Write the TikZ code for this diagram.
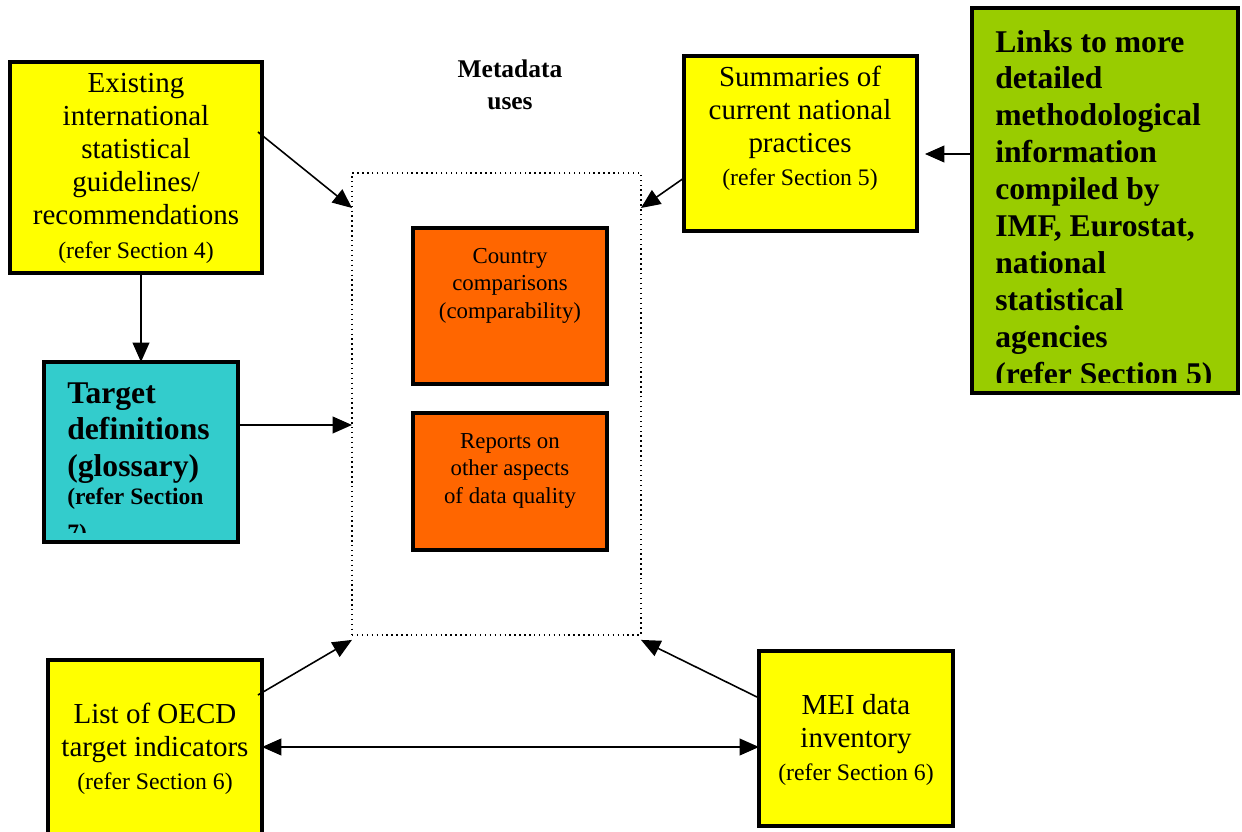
\documentclass[tikz,border=0pt]{standalone}
\usepackage{fontspec}
\setmainfont{Liberation Serif}
\usetikzlibrary{arrows.meta,calc}
\definecolor{boxyellow}{HTML}{FFFF00}
\definecolor{boxcyan}{HTML}{33CCCC}
\definecolor{boxgreen}{HTML}{99CC00}
\definecolor{boxorange}{HTML}{FF6600}
\newcommand{\mainsz}{\fontsize{16.5}{18.9}\selectfont}
\newcommand{\refsz}{\fontsize{13.5}{16.4}\selectfont}
\newcommand{\boldsz}{\fontsize{18}{21}\selectfont\bfseries}
\newcommand{\orgsz}{\fontsize{13}{15.8}\selectfont}
\tikzset{
  box/.style={draw, line width=1.8pt, inner sep=0pt, outer sep=0pt, anchor=north west},
  txt/.style={inner sep=0pt, align=flush center, anchor=base},
  boldtxt/.style={inner sep=0pt, align=flush left, anchor=base west, font=\boldsz},
  arr/.style={line width=0.9pt, >={Triangle[length=11pt,width=9.5pt]}},
}
\begin{document}
\begin{tikzpicture}[x=0.02cm, y=-0.02cm]
    \useasboundingbox (0,0) rectangle (1242,832);
    \clip (0,0) rectangle (1242,832);
    % Nodes
    \node [box, fill=boxyellow, minimum width=5.04cm, minimum height=4.22cm] (exist) at (10,62) {};
    \node [box, fill=boxcyan, minimum width=3.88cm, minimum height=3.6cm] (target) at (44,362) {};
    \node [box, fill=boxyellow, minimum width=4.28cm, minimum height=4cm] (list) at (48,660) {};
    \node [box, fill=boxyellow, minimum width=3.88cm, minimum height=3.5cm] (mei) at (759,651) {};
    \node [box, fill=boxyellow, minimum width=4.66cm, minimum height=3.5cm] (summ) at (684,56) {};
    \node [box, fill=boxgreen, minimum width=5.32cm, minimum height=7.7cm] (links) at (972,8) {};
    \node [box, line width=0.8pt, dotted, minimum width=5.78cm, minimum height=9.24cm] (uses) at (352,173) {};
    \node [box, fill=boxorange, minimum width=3.88cm, minimum height=3.12cm] (country) at (413,228) {};
    \node [box, fill=boxorange, minimum width=3.88cm, minimum height=2.74cm] (reports) at (413,413) {};

    % Texts
    \node [txt, text width=4.8cm, font=\mainsz] (existtxt) at (136,92)
      {Existing\\international\\statistical\\guidelines/\\recommendations\par\refsz (refer Section 4)};
    \node [txt, text width=4.4cm, font=\mainsz] (summtxt) at (800,86)
      {Summaries of\\current national\\practices\par\refsz (refer Section 5)};
    \node [txt, text width=4cm, font=\mainsz] (listtxt) at (155,723)
      {List of OECD\\target indicators\par\refsz (refer Section 6)};
    \node [txt, text width=3.7cm, font=\mainsz] (meitxt) at (856,714)
      {MEI data\\inventory\par\refsz (refer Section 6)};
    \node [txt, text width=3cm, font=\fontsize{14.5}{18.7}\selectfont\bfseries] (usestxt) at (510,77)
      {Metadata\\uses};
    \node [txt, text width=3.7cm, font=\orgsz] (countrytxt) at (510,263)
      {Country\\comparisons\\(comparability)};
    \node [txt, text width=3.7cm, font=\orgsz] (reportstxt) at (510,448)
      {Reports on\\other aspects\\of data quality};
    \begin{scope}
      \clip ($(target.north west)+(3,3)$) rectangle ($(target.south east)+(-3,-9)$);
      \node [boldtxt, text width=3.6cm] (targettxt) at (67,403)
        {Target\\definitions\\(glossary)\par\fontsize{13.4}{15.5}\selectfont (refer Section\\7)};
    \end{scope}
    \begin{scope}
      \clip ($(links.north west)+(3,3)$) rectangle ($(links.south east)+(-3,-10)$);
      \node [boldtxt, text width=5cm] (linkstxt) at (995,52)
        {Links to more\\detailed\\methodological\\information\\compiled by\\IMF, Eurostat,\\national\\statistical\\agencies\\(refer Section 5)};
    \end{scope}

    % Path
    \draw [arr, ->] ($(exist.north east)+(-4,70)$) -- ($(uses.north west)+(0,35)$);
    \draw [arr, ->] (exist.south -| target.north) -- (target.north);
    \draw [arr, ->] ($(target.east)+(0,-27)$) coordinate (t1) -- (t1 -| uses.west);
    \draw [arr, ->] ($(summ.south west)+(0,-53)$) -- ($(uses.north east)+(0,35)$);
    \draw [arr, ->] ($(links.north west)+(0,146)$) coordinate (l1) -- ($(l1 -| summ.east)+(8,0)$);
    \draw [arr, ->] ($(list.north east)+(-4,35)$) -- ($(uses.south west)+(0,5)$);
    \draw [arr, ->] ($(mei.north west)+(-2,46)$) -- ($(uses.south east)+(0,5)$);
    \draw [arr, <->] ($(list.north east)+(0,87)$) coordinate (b1) -- (b1 -| mei.west);
\end{tikzpicture}
\end{document}
